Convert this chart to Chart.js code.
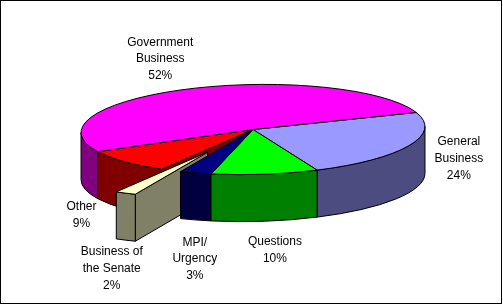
<!DOCTYPE html>
<html>
<head>
<meta charset="utf-8">
<script src="https://cdn.jsdelivr.net/npm/chart.js@4.4.1/dist/chart.umd.min.js"></script>
<style>
  html, body { margin: 0; padding: 0; background: #fff; }
</style>
</head>
<body>
<canvas id="myChart" width="503" height="305"></canvas>
<script>
// slices, clockwise starting from General Business
const categories = [['General', 'Business'], ['Questions'], ['MPI/', 'Urgency'], ['Business of', 'the Senate'], ['Other'], ['Government', 'Business']];
const shares = [24, 10, 3, 2, 9, 52];
const topColors = ['#9999FF', '#00FF00', '#000080', '#FFFFCC', '#FF0000', '#FF00FF'];
const sideColors = ['#4C4C80', '#008000', '#000040', '#808066', '#800000', '#800080'];

// look of the tilted pie
const RX = 172, RY = 45, DEPTH = 47;
const TILT = -1.1 * Math.PI / 180;
const T0 = Math.atan2(-RY * Math.sin(TILT), RX * Math.cos(TILT)); // where the rim turns to the front
const LX = 222, LY = 78, LINE_H = 16.7;
const labelNudge = [[5, -24], [8, -4], [17, 12], [11, 7], [-5, 3], [-11, 2]];

function onPie(cx, cy, t, r, dz) {
    const x = RX * r * Math.cos(t), y = RY * r * Math.sin(t);
    return [cx + x * Math.cos(TILT) - y * Math.sin(TILT), cy + x * Math.sin(TILT) + y * Math.cos(TILT) + dz];
}

function paint(ctx, color) {
    ctx.fillStyle = color;
    ctx.fill();
    ctx.lineWidth = 1;
    ctx.strokeStyle = '#000';
    ctx.stroke();
}

function frontParts(s, e) {
    const parts = [];
    for (let k = -1; k <= 1; k++) {
        const lo = Math.max(s, T0 + k * 2 * Math.PI);
        const hi = Math.min(e, T0 + Math.PI + k * 2 * Math.PI);
        if (hi > lo) parts.push([lo, hi]);
    }
    return parts;
}

function drawFace(ctx, sl, a) {
    const p = onPie(sl.c[0], sl.c[1], a, 1, 0);
    ctx.beginPath();
    ctx.moveTo(sl.c[0], sl.c[1]);
    ctx.lineTo(p[0], p[1]);
    ctx.lineTo(p[0], p[1] + DEPTH);
    ctx.lineTo(sl.c[0], sl.c[1] + DEPTH);
    ctx.closePath();
    paint(ctx, sideColors[sl.i]);
}

function drawWall(ctx, sl, part) {
    ctx.beginPath();
    ctx.ellipse(sl.c[0], sl.c[1], RX, RY, TILT, part[0], part[1]);
    ctx.ellipse(sl.c[0], sl.c[1] + DEPTH, RX, RY, TILT, part[1], part[0], true);
    ctx.closePath();
    paint(ctx, sideColors[sl.i]);
}

function drawTop(ctx, sl) {
    ctx.beginPath();
    ctx.moveTo(sl.c[0], sl.c[1]);
    ctx.ellipse(sl.c[0], sl.c[1], RX, RY, TILT, sl.s, sl.e);
    ctx.closePath();
    paint(ctx, topColors[sl.i]);
}

const pie3d = {
    id: 'pie3d',
    beforeDatasetsDraw(chart) {
        const ctx = chart.ctx;
        const slices = chart.getDatasetMeta(0).data.map((arc, i) => {
            const p = arc.getProps(['x', 'y', 'startAngle', 'endAngle', 'outerRadius'], true);
            const mid = (p.startAngle + p.endAngle) / 2;
            const off = (arc.options.offset || 0) / p.outerRadius;
            return { i, s: p.startAngle, e: p.endAngle, mid, off, c: onPie(p.x, p.y, mid, off, 0) };
        });
        chart.$slices = slices;
        ctx.save();
        ctx.lineJoin = 'round';

        const main = slices.filter(sl => !sl.off);
        const pulled = slices.filter(sl => sl.off);

        // inner faces of the main body, back to front
        const faces = [];
        main.forEach(sl => {
            if (Math.cos(sl.s) < 0) faces.push({ sl, a: sl.s });
            if (Math.cos(sl.e) > 0) faces.push({ sl, a: sl.e });
        });
        faces.sort((a, b) => Math.sin(a.a) - Math.sin(b.a));

        // rim pieces of the main body
        const walls = [];
        main.forEach(sl => frontParts(sl.s, sl.e).forEach(part => walls.push({ sl, part, key: Math.sin((part[0] + part[1]) / 2) })));
        walls.sort((a, b) => a.key - b.key);
        const pulledKey = Math.max(...pulled.map(sl => Math.sin(sl.mid)), -2);

        faces.forEach(f => drawFace(ctx, f.sl, f.a));
        walls.filter(w => w.key <= pulledKey).forEach(w => drawWall(ctx, w.sl, w.part));
        pulled.forEach(sl => {
            if (Math.cos(sl.s) < 0) drawFace(ctx, sl, sl.s);
            if (Math.cos(sl.e) > 0) drawFace(ctx, sl, sl.e);
            frontParts(sl.s, sl.e).forEach(part => drawWall(ctx, sl, part));
        });
        walls.filter(w => w.key > pulledKey).forEach(w => drawWall(ctx, w.sl, w.part));
        slices.forEach(sl => drawTop(ctx, sl));
        ctx.restore();
        return false;
    },
    afterDraw(chart) {
        const ctx = chart.ctx;
        ctx.save();
        ctx.fillStyle = '#000';
        ctx.font = '12px "Liberation Sans", Arial, sans-serif';
        ctx.textAlign = 'center';
        ctx.textBaseline = 'middle';
        (chart.$slices || []).forEach(sl => {
            const lines = categories[sl.i].concat([shares[sl.i] + '%']);
            const sin = Math.sin(sl.mid);
            const x = sl.c[0] + LX * Math.cos(sl.mid) + labelNudge[sl.i][0];
            const y = sl.c[1] + LY * sin + DEPTH * Math.max(0, sin) + labelNudge[sl.i][1];
            lines.forEach((t, k) => ctx.fillText(t, x, y + (k - (lines.length - 1) / 2) * LINE_H));
        });
        ctx.lineWidth = 1;
        ctx.strokeStyle = '#000';
        ctx.strokeRect(0.5, 0.5, 501, 303);
        ctx.restore();
    }
};

const ctx = document.getElementById('myChart').getContext('2d');
const myChart = new Chart(ctx, {
    type: 'pie',
    data: {
        labels: categories.map(c => c.join(' ')),
        datasets: [{
            data: shares,
            backgroundColor: topColors,
            borderWidth: 0,
            hoverOffset: 0,
            offset: [0, 0, 0, 56, 0, 0]
        }]
    },
    options: {
        responsive: false,
        animation: false,
        rotation: 72,
        layout: { padding: { left: 3, right: 0, top: 0, bottom: 46 } },
        plugins: {
            legend: { display: false },
            tooltip: { enabled: false }
        }
    },
    plugins: [pie3d]
});
</script>
</body>
</html>
